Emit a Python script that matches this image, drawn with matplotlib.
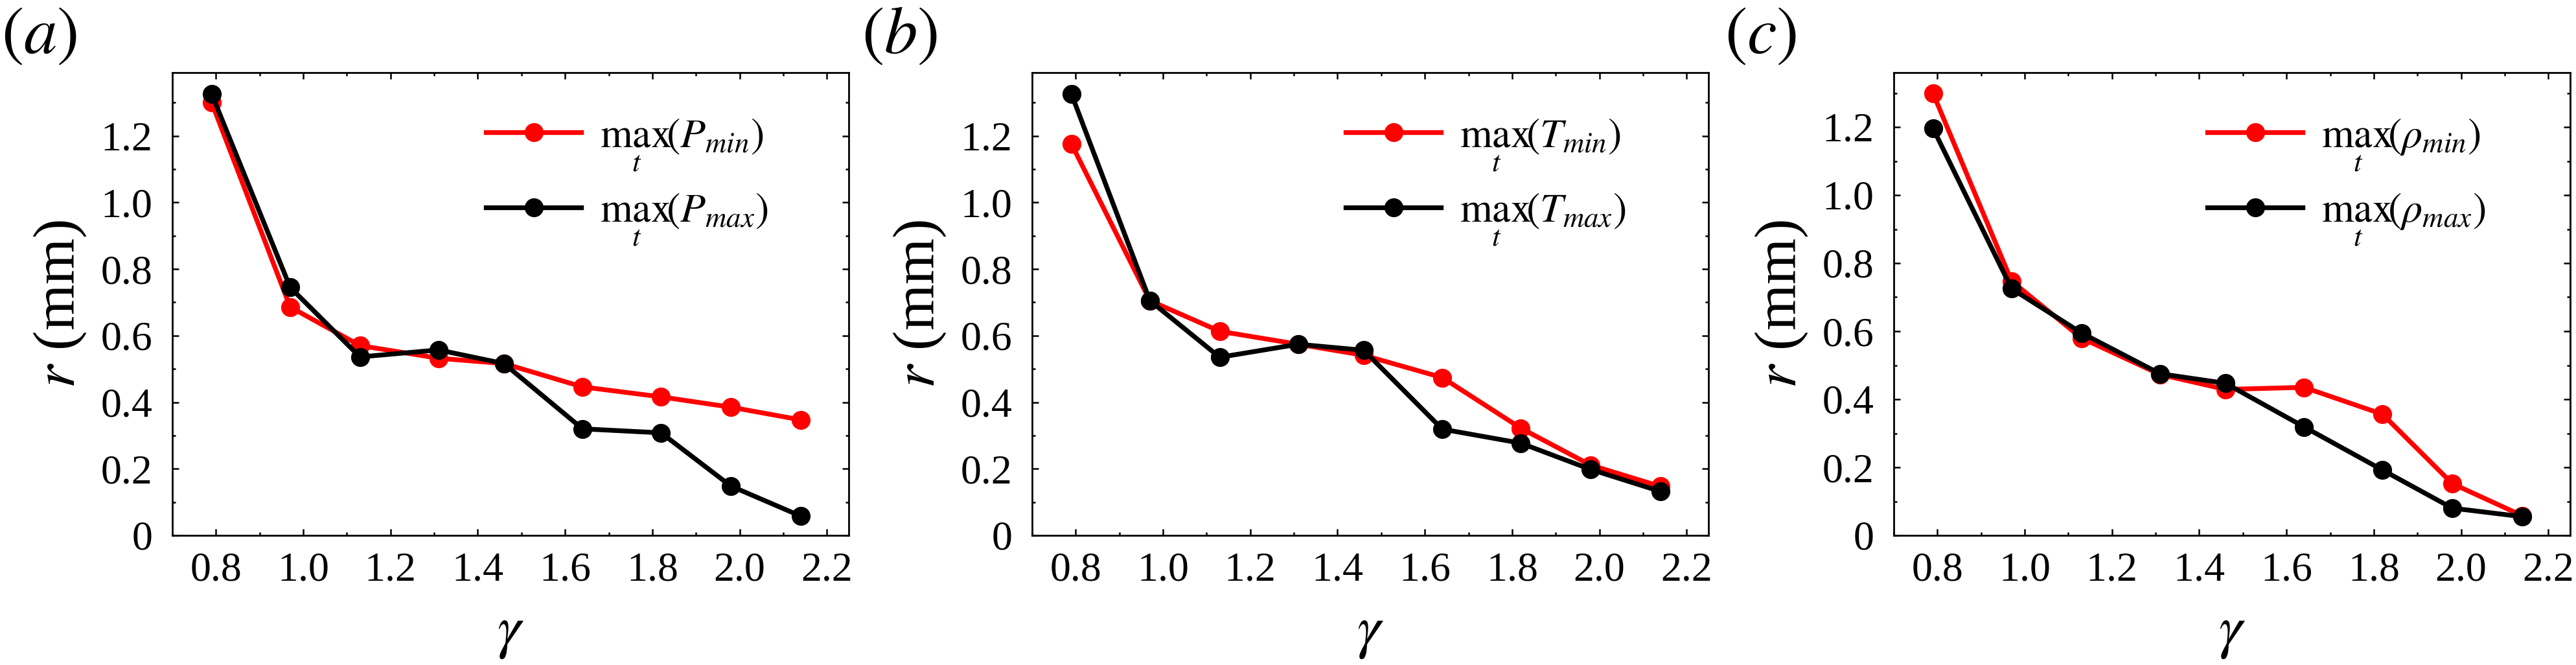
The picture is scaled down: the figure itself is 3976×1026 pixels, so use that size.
import numpy as np
import matplotlib
matplotlib.use("Agg")
import matplotlib.pyplot as plt
from matplotlib.ticker import MultipleLocator, FuncFormatter

plt.rcParams['font.family'] = ['Liberation Serif', 'DejaVu Serif']
plt.rcParams['mathtext.fontset'] = 'stix'

# gamma values shared by the three panels
gamma = [0.79, 0.97, 1.13, 1.31, 1.46, 1.64, 1.82, 1.98, 2.14]

# (a) pressure
p_min = [1.30, 0.686, 0.570, 0.532, 0.516, 0.446, 0.416, 0.385, 0.347]
p_max = [1.326, 0.745, 0.536, 0.557, 0.516, 0.320, 0.308, 0.148, 0.058]
# (b) temperature
t_min = [1.176, 0.705, 0.613, 0.574, 0.541, 0.474, 0.322, 0.211, 0.147]
t_max = [1.326, 0.705, 0.535, 0.574, 0.556, 0.319, 0.277, 0.198, 0.132]
# (c) density
rho_min = [1.299, 0.747, 0.580, 0.473, 0.429, 0.435, 0.356, 0.152, 0.058]
rho_max = [1.196, 0.725, 0.595, 0.475, 0.447, 0.319, 0.192, 0.080, 0.055]

panel_tags = ['$(a)$', '$(b)$', '$(c)$']
min_labels = [r'$\max_t\!(P_{min}\!)$', r'$\max_t\!(T_{min}\!)$', r'$\max_t\!(\rho_{min}\!)$']
max_labels = [r'$\max_t\!(P_{max}\!)$', r'$\max_t\!(T_{max}\!)$', r'$\max_t\!(\rho_{max}\!)$']
ytops = [1.39, 1.39, 1.36]

W, H = 3976, 1026
fig = plt.figure(figsize=(W / 100, H / 100), dpi=100)

lefts = [266, 1593, 2923]
ax_w, ax_top, ax_bot = 1044, 112, 826

series = [(p_min, p_max), (t_min, t_max), (rho_min, rho_max)]

for i in range(3):
    ax = fig.add_axes([lefts[i] / W, 1 - ax_bot / H, ax_w / W, (ax_bot - ax_top) / H])
    lo, hi = series[i]
    ax.plot(gamma, lo, '-o', color='#ff0000', lw=5.3, ms=20, label=min_labels[i])
    ax.plot(gamma, hi, '-o', color='black', lw=5.3, ms=20, label=max_labels[i])

    ax.set_xlim(0.7, 2.25)
    ax.set_ylim(0, ytops[i])
    ax.xaxis.set_major_locator(MultipleLocator(0.2))
    ax.xaxis.set_minor_locator(MultipleLocator(0.1))
    ax.yaxis.set_major_locator(MultipleLocator(0.2))
    ax.yaxis.set_minor_locator(MultipleLocator(0.1))
    ax.xaxis.set_major_formatter(FuncFormatter(lambda v, p: f'{v:.1f}'))
    ax.yaxis.set_major_formatter(FuncFormatter(lambda v, p: '0' if abs(v) < 1e-9 else f'{v:.1f}'))

    ax.tick_params(which='both', direction='in', top=True, right=True, width=1.8)
    ax.tick_params(which='major', length=7)
    ax.tick_params(which='minor', length=3.6)
    ax.tick_params(axis='x', which='major', labelsize=46, pad=18)
    ax.tick_params(axis='y', which='major', labelsize=46, pad=22)
    for s in ax.spines.values():
        s.set_linewidth(2)

    ax.set_xlabel(r'$\gamma$', fontsize=66, labelpad=20)
    ax.set_ylabel('$r$ (mm)', fontsize=66, labelpad=14)

    ax.legend(loc='upper left', bbox_to_anchor=(0.464, 0.905), frameon=False,
              fontsize=46, handlelength=2.3, handletextpad=0.45,
              labelspacing=0.45, borderpad=0, borderaxespad=0)

    fig.text((lefts[i] - 205) / W, 1 - 57 / H, panel_tags[i], fontsize=74,
             ha='center', va='center')

fig.savefig('out.png', dpi=100)
